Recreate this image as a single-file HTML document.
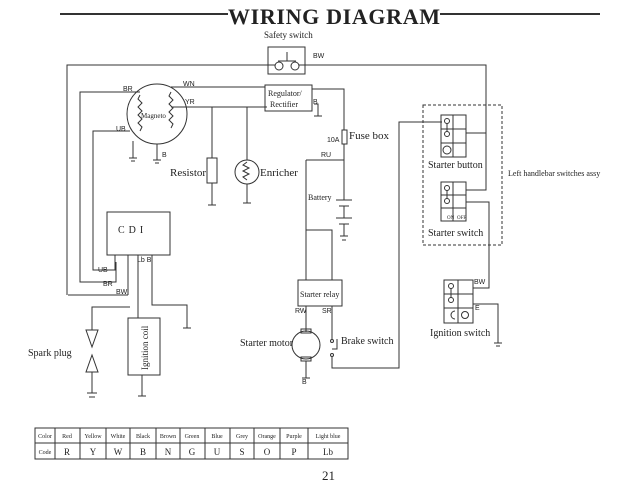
<!DOCTYPE html>
<html><head><meta charset="utf-8"><style>
html,body{margin:0;padding:0;background:#fff;}
svg{display:block;}
text{font-family:"Liberation Serif",serif;fill:#222;}
.s{font-family:"Liberation Sans",sans-serif;font-size:7px;}
</style></head><body>
<svg width="640" height="480" viewBox="0 0 640 480" xmlns="http://www.w3.org/2000/svg">
<g stroke="#333" stroke-width="1" fill="none">
<line x1="60" y1="14" x2="228" y2="14" stroke-width="2"/>
<line x1="440" y1="14" x2="600" y2="14" stroke-width="2"/>
<rect x="268" y="47" width="37" height="27"/>
<line x1="287" y1="52" x2="287" y2="61"/><line x1="278" y1="61" x2="296" y2="61"/>
<circle cx="279" cy="66" r="4"/><circle cx="295" cy="66" r="4"/>
<polyline points="67,295 67,65 275,65"/>
<polyline points="299,65 486,65 486,190 466,190"/>
<line x1="466" y1="133" x2="486" y2="133"/>
<circle cx="157" cy="114" r="30"/>
<polyline points="140,92 80,92 80,282 116,282 116,262"/>
<polyline points="130,131 93,131 93,270 115,270 115,255"/>
<polyline points="128,295 128,255"/>
<line x1="68" y1="295" x2="128" y2="295"/>
<path d="M140,95 l-2,4 4,4 -4,4 4,4 -4,4 4,4 -4,4 4,4 -2,4"/>
<path d="M171,92 l-2,4 4,4 -4,4 4,4 -4,4 4,4 -4,4 4,4 -2,4"/>
<line x1="171" y1="87" x2="265" y2="87"/>
<line x1="171" y1="107" x2="267" y2="107"/>
<line x1="133" y1="141" x2="133" y2="158"/><line x1="129" y1="158" x2="137" y2="158"/><line x1="131" y1="161" x2="135" y2="161"/>
<line x1="157" y1="144" x2="157" y2="160"/><line x1="153" y1="160" x2="161" y2="160"/><line x1="155" y1="163" x2="159" y2="163"/>
<rect x="265" y="85" width="47" height="26"/>
<polyline points="312,89 344,89 344,130"/>
<polyline points="314,104 318,104 318,116"/><line x1="314" y1="116" x2="322" y2="116"/>
<line x1="212" y1="107" x2="212" y2="158"/><rect x="207" y="158" width="10" height="25"/>
<line x1="212" y1="183" x2="212" y2="205"/><line x1="208" y1="205" x2="216" y2="205"/>
<line x1="247" y1="107" x2="247" y2="160"/><circle cx="247" cy="172" r="12"/>
<path d="M247,162 l-4,3 6,3 -6,3 6,3 -6,3 4,3"/>
<line x1="247" y1="184" x2="247" y2="203"/><line x1="243" y1="203" x2="251" y2="203"/>
<rect x="342" y="130" width="5" height="14"/>
<line x1="344" y1="144" x2="344" y2="200"/>
<line x1="306" y1="160" x2="344" y2="160"/>
<line x1="336" y1="200" x2="352" y2="200"/><line x1="339" y1="206" x2="349" y2="206"/>
<line x1="336" y1="218" x2="352" y2="218"/><line x1="339" y1="224" x2="349" y2="224"/>
<line x1="344" y1="206" x2="344" y2="218"/>
<line x1="344" y1="224" x2="344" y2="236"/><line x1="340" y1="236" x2="348" y2="236"/><line x1="342" y1="240" x2="346" y2="240"/>
<polyline points="306,160 306,280"/>
<polyline points="306,230 332,230 332,280"/>
<rect x="298" y="280" width="44" height="26"/>
<line x1="306" y1="306" x2="306" y2="332"/>
<circle cx="306" cy="345" r="14"/>
<rect x="301" y="329" width="10" height="4"/><rect x="301" y="357" width="10" height="4"/>
<line x1="306" y1="361" x2="306" y2="378"/><line x1="302" y1="378" x2="310" y2="378"/>
<line x1="332" y1="306" x2="332" y2="339"/>
<circle cx="332" cy="341" r="1.5"/><circle cx="332" cy="355" r="1.5"/>
<polyline points="337,339 337,349 332,349"/>
<polyline points="332,357 332,368 399,368 399,122 442,122"/>
<rect x="423" y="105" width="79" height="140" stroke-dasharray="3,2"/>
<rect x="441" y="115" width="25" height="42"/>
<line x1="453" y1="115" x2="453" y2="157"/><line x1="441" y1="129" x2="466" y2="129"/><line x1="441" y1="143" x2="466" y2="143"/>
<circle cx="447" cy="121" r="2.5"/><circle cx="447" cy="134" r="2.5"/><line x1="447" y1="123" x2="447" y2="132"/>
<circle cx="447" cy="150" r="4"/>
<rect x="441" y="182" width="25" height="39"/>
<line x1="453" y1="182" x2="453" y2="221"/><line x1="441" y1="195" x2="466" y2="195"/><line x1="441" y1="208" x2="466" y2="208"/>
<circle cx="447" cy="188" r="2.5"/><circle cx="447" cy="201" r="2.5"/><line x1="447" y1="190" x2="447" y2="199"/>
<polyline points="466,202 489,202 489,288 473,288"/>
<rect x="444" y="280" width="29" height="43"/>
<line x1="458" y1="280" x2="458" y2="323"/><line x1="444" y1="294" x2="473" y2="294"/><line x1="444" y1="308" x2="473" y2="308"/>
<circle cx="451" cy="286" r="2.5"/><circle cx="451" cy="300" r="2.5"/><line x1="451" y1="288" x2="451" y2="298"/>
<path d="M455,311 a4,4 0 1 0 0,8"/><circle cx="465" cy="315" r="3.5"/>
<polyline points="473,304 498,304 498,343"/><line x1="494" y1="343" x2="502" y2="343"/><line x1="496" y1="346" x2="500" y2="346"/>
<rect x="107" y="212" width="63" height="43"/>
<line x1="138" y1="255" x2="138" y2="318"/>
<polyline points="152,255 152,305 187,305 187,328"/><line x1="183" y1="328" x2="191" y2="328"/>
<rect x="128" y="318" width="32" height="57"/>
<line x1="142" y1="375" x2="142" y2="396"/><line x1="138" y1="396" x2="146" y2="396"/>
<polyline points="130,307 92,307 92,330"/>
<polygon points="86,330 98,330 92,347"/>
<polygon points="92,355 86,372 98,372"/>
<line x1="92" y1="372" x2="92" y2="393"/><line x1="87" y1="393" x2="97" y2="393"/><line x1="89" y1="397" x2="95" y2="397"/>
<rect x="35" y="428" width="313" height="31"/>
<line x1="35" y1="443" x2="348" y2="443"/>
<line x1="55" y1="428" x2="55" y2="459"/><line x1="80" y1="428" x2="80" y2="459"/><line x1="106" y1="428" x2="106" y2="459"/>
<line x1="130" y1="428" x2="130" y2="459"/><line x1="156" y1="428" x2="156" y2="459"/><line x1="180" y1="428" x2="180" y2="459"/>
<line x1="205" y1="428" x2="205" y2="459"/><line x1="230" y1="428" x2="230" y2="459"/><line x1="254" y1="428" x2="254" y2="459"/>
<line x1="280" y1="428" x2="280" y2="459"/><line x1="308" y1="428" x2="308" y2="459"/>
</g>
<text x="228" y="24" font-size="22" font-weight="bold" textLength="212">WIRING DIAGRAM</text>
<text x="264" y="38" font-size="9">Safety switch</text>
<text x="313" y="58" class="s">BW</text>
<text x="123" y="91" class="s">BR</text>
<text x="116" y="131" class="s">UB</text>
<text x="183" y="86" class="s">WN</text>
<text x="185" y="104" class="s">YR</text>
<text x="162" y="157" class="s">B</text>
<text x="141" y="118" font-size="7">Magneto</text>
<text x="268" y="96" font-size="8">Regulator/</text>
<text x="270" y="107" font-size="8">Rectifier</text>
<text x="313" y="104" class="s">B</text>
<text x="327" y="142" class="s">10A</text>
<text x="349" y="139" font-size="11">Fuse box</text>
<text x="321" y="157" class="s">RU</text>
<text x="308" y="200" font-size="8">Battery</text>
<text x="170" y="176" font-size="11">Resistor</text>
<text x="260" y="176" font-size="11">Enricher</text>
<text x="118" y="233" font-size="10" letter-spacing="4">CDI</text>
<text x="98" y="272" class="s">UB</text>
<text x="103" y="286" class="s">BR</text>
<text x="116" y="294" class="s">BW</text>
<text x="137" y="262" class="s">Lb B</text>
<text x="28" y="356" font-size="10">Spark plug</text>
<text x="0" y="0" font-size="9" transform="translate(148,370) rotate(-90)">Ignition coil</text>
<text x="300" y="297" font-size="8">Starter relay</text>
<text x="295" y="313" class="s">RW</text>
<text x="322" y="313" class="s">SR</text>
<text x="240" y="346" font-size="10">Starter motor</text>
<text x="341" y="344" font-size="10">Brake switch</text>
<text x="302" y="384" class="s">B</text>
<text x="428" y="168" font-size="10">Starter button</text>
<text x="428" y="236" font-size="10">Starter switch</text>
<text x="508" y="176" font-size="8">Left handlebar switches assy</text>
<text x="474" y="284" class="s">BW</text>
<text x="475" y="310" class="s">E</text>
<text x="430" y="336" font-size="10">Ignition switch</text>
<text x="447" y="219" font-size="5">ON</text>
<text x="457" y="219" font-size="5">OFF</text>
<g font-family="Liberation Sans,sans-serif" font-size="6" text-anchor="middle">
<text x="45" y="438">Color</text><text x="67" y="438">Red</text><text x="93" y="438">Yellow</text><text x="118" y="438">White</text>
<text x="143" y="438">Black</text><text x="168" y="438">Brown</text><text x="192" y="438">Green</text><text x="217" y="438">Blue</text>
<text x="242" y="438">Grey</text><text x="267" y="438">Orange</text><text x="294" y="438">Purple</text><text x="328" y="438">Light blue</text>
<text x="45" y="454">Code</text>
</g>
<g font-family="Liberation Sans,sans-serif" font-size="9" text-anchor="middle">
<text x="67" y="455">R</text><text x="93" y="455">Y</text><text x="118" y="455">W</text><text x="143" y="455">B</text><text x="168" y="455">N</text>
<text x="192" y="455">G</text><text x="217" y="455">U</text><text x="242" y="455">S</text><text x="267" y="455">O</text><text x="294" y="455">P</text><text x="328" y="455">Lb</text>
</g>
<text x="322" y="480" font-size="13">21</text>
</svg>
</body></html>
